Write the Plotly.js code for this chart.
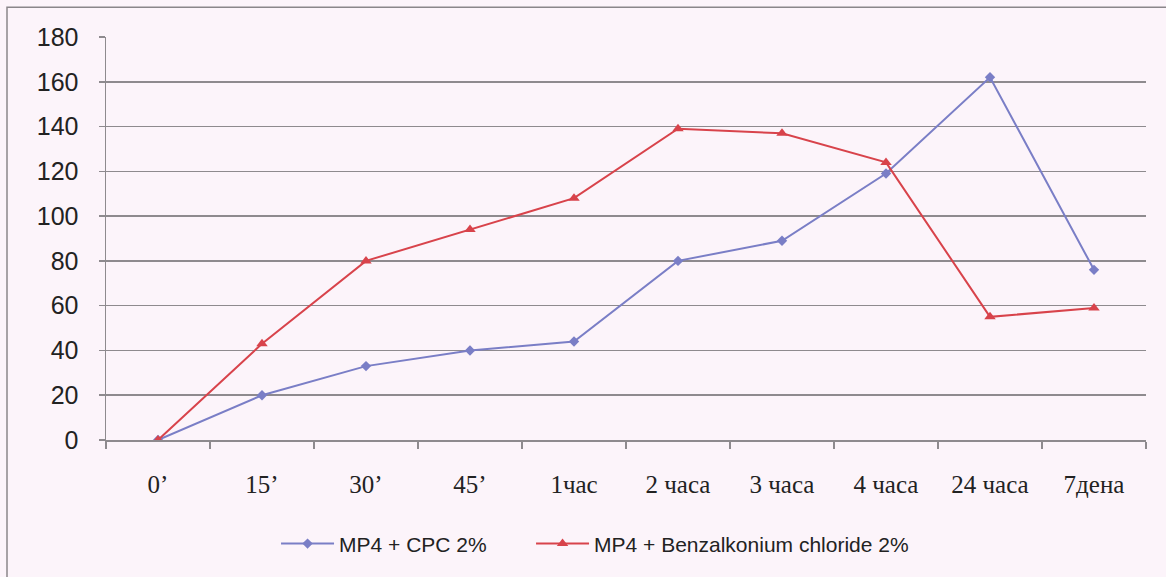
<!DOCTYPE html>
<html>
<head>
<meta charset="utf-8">
<script src="https://cdn.plot.ly/plotly-3.0.1.min.js"></script>
<style>
  html, body { margin: 0; padding: 0; background: #fcf4fa; }
  #chart { width: 1166px; height: 577px; }
</style>
</head>
<body>
<div id="chart"></div>
<script>
// Data
const categories = ["0’", "15’", "30’", "45’", "1час", "2 часа", "3 часа", "4 часа", "24 часа", "7дена"];
const cpcValues = [0, 20, 33, 40, 44, 80, 89, 119, 162, 76];
const benzValues = [0, 43, 80, 94, 108, 139, 137, 124, 55, 59];
const seriesNames = ["MP4 + CPC 2%", "MP4 + Benzalkonium chloride 2%"];
const yTicks = [0, 20, 40, 60, 80, 100, 120, 140, 160, 180];

const gridColor = "#8e8a8e";
const bg = "#fcf4fa";

const traces = [
  {
    x: categories, y: cpcValues, name: seriesNames[0], legend: "legend",
    type: "scatter", mode: "lines+markers",
    line: { color: "#7a7ec6", width: 2 },
    marker: { symbol: "diamond", size: 8, color: "#7a7ec6" }
  },
  {
    x: categories, y: benzValues, name: seriesNames[1], legend: "legend2",
    type: "scatter", mode: "lines+markers",
    line: { color: "#d8434b", width: 2 },
    marker: { symbol: "triangle-up", size: 10, color: "#d8434b" }
  }
];

const legendCommon = {
  orientation: "h", xanchor: "left", y: -0.258, yanchor: "middle",
  font: { family: "Liberation Sans, Arial, sans-serif", size: 21, color: "#222" },
  bgcolor: "rgba(0,0,0,0)", itemwidth: 53
};

const layout = {
  width: 1166, height: 577,
  paper_bgcolor: bg, plot_bgcolor: bg,
  margin: { l: 106, r: 20, t: 37, b: 134 },
  showlegend: true,
  legend: Object.assign({}, legendCommon, { x: 0.1635 }),
  legend2: Object.assign({}, legendCommon, { x: 0.4087 }),
  xaxis: {
    type: "category", range: [-0.5, 9.5],
    showgrid: false, zeroline: false,
    showline: true, linecolor: gridColor, linewidth: 1.5,
    ticks: "outside", tickson: "boundaries", ticklen: 7, tickcolor: gridColor, tickwidth: 1.5,
    ticklabelstandoff: 21,
    tickfont: { family: "Liberation Serif, Times New Roman, serif", size: 25, color: "#222" }
  },
  yaxis: {
    range: [0, 180], tickvals: yTicks, ticktext: yTicks.map(String),
    showgrid: true, gridcolor: gridColor, gridwidth: 1.5,
    zeroline: false,
    showline: true, linecolor: gridColor, linewidth: 1.5,
    ticks: "outside", ticklen: 6, tickcolor: gridColor, tickwidth: 1.5,
    ticklabelstandoff: 15,
    tickfont: { family: "Liberation Sans, Arial, sans-serif", size: 25, color: "#222" }
  },
  shapes: [
    { type: "rect", xref: "paper", yref: "paper",
      x0: -99 / 1040, x1: 1.2, y0: -0.5, y1: 1 + 30 / 406,
      line: { color: "#8a868a", width: 1.5 }, fillcolor: "rgba(0,0,0,0)", layer: "below" }
  ]
};

Plotly.newPlot("chart", traces, layout, { displayModeBar: false, staticPlot: true });
</script>
</body>
</html>
